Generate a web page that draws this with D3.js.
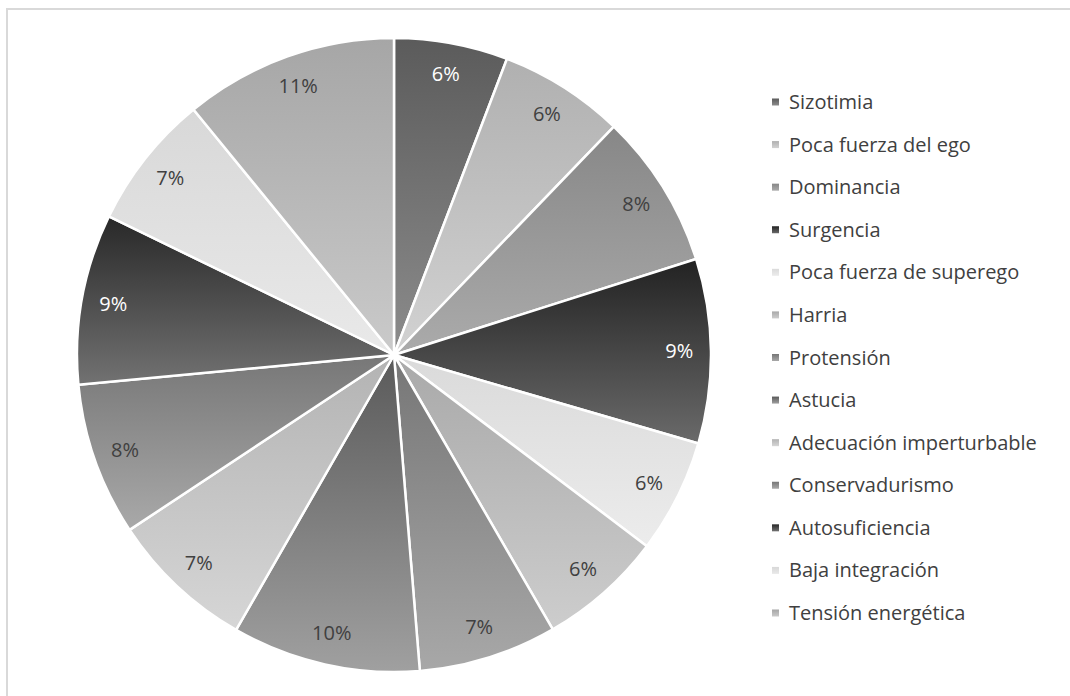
<!DOCTYPE html>
<html>
<head>
<meta charset="utf-8">
<script src="https://cdn.jsdelivr.net/npm/d3@7"></script>
<style>
  body { margin: 0; background: #fff; }
  svg { display: block; font-family: "Open Sans", sans-serif; }
</style>
</head>
<body>
<svg id="chart" width="1070" height="696"></svg>
<script>
var categories = ["Sizotimia", "Poca fuerza del ego", "Dominancia", "Surgencia",
    "Poca fuerza de superego", "Harria", "Protensión", "Astucia",
    "Adecuación imperturbable", "Conservadurismo", "Autosuficiencia",
    "Baja integración", "Tensión energética"];
var values = [5.8, 6.4, 7.9, 9.4, 5.8, 6.35, 7.05, 9.6, 7.4, 7.8, 8.7, 6.9, 10.9];
// gradient top / bottom shades for each slice
var shadeTop = ["#5b5b5b", "#b0b0b0", "#878787", "#222222", "#dadada", "#a9a9a9",
    "#767676", "#5a5a5a", "#b3b3b3", "#777777", "#282828", "#d8d8d8", "#a6a6a6"];
var shadeBottom = ["#8c8c8c", "#d2d2d2", "#ababab", "#6a6a6a", "#ececec", "#cdcdcd",
    "#a8a8a8", "#a0a0a0", "#d6d6d6", "#a9a9a9", "#727272", "#e9e9e9", "#cacaca"];
var whiteLabel = [true, false, false, true, false, false, false, false, false, false, true, false, false];

var svg = d3.select("#chart");
var cx = 394, cy = 355, radius = 317;

// chart frame
svg.append("rect")
    .attr("x", 7).attr("y", 9)
    .attr("width", 1080).attr("height", 700)
    .attr("fill", "none")
    .attr("stroke", "#d9d9d9")
    .attr("stroke-width", 2);

var defs = svg.append("defs");
categories.forEach(function (c, i) {
    var g = defs.append("linearGradient")
        .attr("id", "grad" + i)
        .attr("x1", 0).attr("y1", 0).attr("x2", 0).attr("y2", 1);
    g.append("stop").attr("offset", "0%").attr("stop-color", shadeTop[i]);
    g.append("stop").attr("offset", "100%").attr("stop-color", shadeBottom[i]);
});

var total = d3.sum(values);
var pie = d3.pie().sort(null).value(function (d) { return d; });
var arc = d3.arc().innerRadius(0).outerRadius(radius);
var labelArc = d3.arc().innerRadius(radius * 0.9).outerRadius(radius * 0.9);

var g = svg.append("g").attr("transform", "translate(" + cx + "," + cy + ")");
var arcs = pie(values);

g.selectAll("path")
    .data(arcs)
    .enter()
    .append("path")
    .attr("d", arc)
    .attr("fill", function (d, i) { return "url(#grad" + i + ")"; })
    .attr("stroke", "#ffffff")
    .attr("stroke-width", 2.5)
    .attr("stroke-linejoin", "round");

g.selectAll("text")
    .data(arcs)
    .enter()
    .append("text")
    .attr("transform", function (d) { return "translate(" + labelArc.centroid(d) + ")"; })
    .attr("text-anchor", "middle")
    .attr("dy", "0.35em")
    .attr("font-size", 20)
    .attr("fill", function (d, i) { return whiteLabel[i] ? "#ffffff" : "#404040"; })
    .text(function (d) { return Math.round(d.value / total * 100) + "%"; });

// legend
var legendY = d3.scalePoint()
    .domain(categories)
    .range([102, 613]);

var legend = svg.append("g");
var items = legend.selectAll("g")
    .data(categories)
    .enter()
    .append("g")
    .attr("transform", function (d) { return "translate(772," + legendY(d) + ")"; });

items.append("rect")
    .attr("x", 0).attr("y", -3.5)
    .attr("width", 7).attr("height", 7)
    .attr("fill", function (d, i) { return "url(#grad" + i + ")"; });

items.append("text")
    .attr("x", 17)
    .attr("dy", "0.35em")
    .attr("font-size", 20)
    .attr("fill", "#404040")
    .text(function (d) { return d; });
</script>
</body>
</html>
